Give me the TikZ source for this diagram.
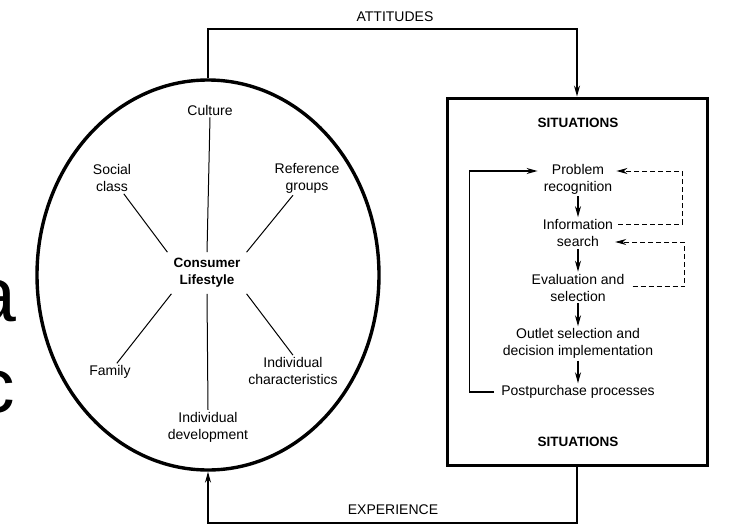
\documentclass[tikz,border=0pt]{standalone}
\usepackage{fontspec}
\setmainfont{Liberation Sans}
\usetikzlibrary{shapes.geometric,arrows.meta}

\tikzset{
  txt/.style={font=\fontsize{14}{17}\selectfont, align=center, inner sep=2pt},
  bold/.style={font=\fontsize{13.5}{17}\selectfont\bfseries, align=center, inner sep=2pt},
  spoke/.style={line width=1pt},
  link/.style={line width=1.2pt},
  tip/.style={-{Stealth[length=11pt,width=6pt]}},
  fb/.style={line width=0.9pt, dash pattern=on 5pt off 3pt},
  bigletter/.style={font=\fontsize{77}{80}\selectfont, inner sep=0pt, outer sep=0pt, anchor=base east}
}

\begin{document}
\begin{tikzpicture}[x=1pt,y=-1pt]
  \useasboundingbox (0,0) rectangle (742,525);
  \clip (0,0) rectangle (742,525);

  % letters of a neighbouring slide text, cut by the left edge
  \node[bigletter] (la) at (16,321) {a};
  \node[bigletter] (lc) at (15,412) {c};

  % lifestyle ellipse
  \node[ellipse, draw, line width=3.4pt, minimum width=342pt, minimum height=390pt, inner sep=0pt]
    (life) at (208,275) {};

  \node[bold, inner sep=6pt] (core) at (207,273) {Consumer\\Lifestyle};
  \node[txt] (culture) at (210,110) {Culture};
  \node[txt] (social) at (112,178) {Social\\class};
  \node[txt] (refg) at (307,178) {Reference\\groups};
  \node[txt] (family) at (110,372) {Family};
  \node[txt] (indc) at (293,371) {Individual\\characteristics};
  \node[txt] (indd) at (208,427) {Individual\\development};

  \draw[spoke] (core.north) -- (culture.south);
  \draw[spoke] (core.south) -- (indd.north);
  \draw[spoke] (core.north west) -- (social);
  \draw[spoke] (core.north east) -- (refg);
  \draw[spoke] ([xshift=4pt]core.south west) -- (family);
  \draw[spoke] (core.south east) -- (indc.north);

  % situations box
  \node[draw, line width=3pt, minimum width=260pt, minimum height=367pt, inner sep=0pt]
    (sit) at (577,281.5) {};

  \node[bold] (sittop) at (578,123) {SITUATIONS};
  \node[bold] (sitbot) at (578,442) {SITUATIONS};

  \node[txt] (prob) at (578,179) {Problem\\recognition};
  \node[txt] (info) at (578,233) {Information\\search};
  \node[txt] (eval) at (578,287.5) {Evaluation and\\selection};
  \node[txt] (outl) at (578,343.5) {Outlet selection and\\decision implementation};
  \node[txt] (post) at (578,392) {Postpurchase processes};

  \draw[link,tip] (prob) -- (info);
  \draw[link,tip] (info) -- (eval);
  \draw[link,tip] (eval) -- (outl);
  \draw[link,tip] (outl) -- (post);

  % return from postpurchase to problem recognition
  \draw[link,tip,shorten <=5pt] (post.west) -- ++(-30,0) |- ([yshift=8pt,xshift=-4pt]prob.west);

  % dashed feedback loops
  \draw[fb,tip] ([xshift=3pt,yshift=9pt]info.east) -- ++(64,0) |- ([yshift=8pt,xshift=2pt]prob.east);
  \draw[fb,tip] ([xshift=6pt,yshift=1pt]eval.east) -- ++(52,0) |- ([yshift=-9pt]info.east);

  % attitudes and experience links
  \coordinate (topline) at (0,29);
  \coordinate (botline) at (0,523);
  \node[txt] (att) at (395,17) {ATTITUDES};
  \node[txt] (exp) at (393,510) {EXPERIENCE};

  \draw[link,tip] (life.north) -- (life.north |- topline) -| (sit.north);
  \draw[link,tip] (sit.south) -- (sit.south |- botline) -| (life.south);
\end{tikzpicture}
\end{document}
